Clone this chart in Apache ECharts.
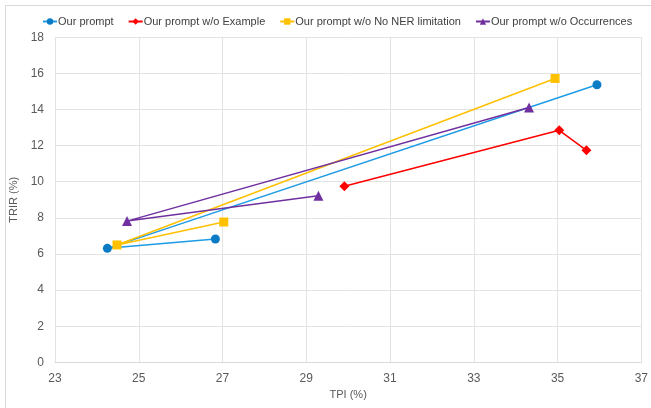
<!DOCTYPE html>
<html><head><meta charset="utf-8">
<script src="https://cdn.jsdelivr.net/npm/echarts@6/dist/echarts.min.js"></script>
<style>html,body{margin:0;padding:0;background:#fff}#c{width:651px;height:408px}</style>
</head><body><div id="c"></div>
<script>
const seriesNames = ["Our prompt", "Our prompt w/o Example", "Our prompt w/o No NER limitation", "Our prompt w/o Occurrences"];
const ourPrompt = [[26.83, 6.83], [24.25, 6.31], [35.94, 15.37]];
const woExample = [[29.91, 9.75], [35.04, 12.85], [35.69, 11.74]];
const woNER = [[27.03, 7.77], [24.48, 6.5], [34.94, 15.72]];
const woOccurrences = [[29.29, 9.22], [24.72, 7.82], [34.32, 14.11]];
const xTicks = [23, 25, 27, 29, 31, 33, 35, 37];
const yTicks = [0, 2, 4, 6, 8, 10, 12, 14, 16, 18];

const font = "Liberation Sans";
const styles = [
  {line: '#1E9BE6', marker: '#0A7CC6', symbol: 'circle', size: 9},
  {line: '#FF0000', marker: '#FF0000', symbol: 'diamond', size: 10},
  {line: '#FFC000', marker: '#FFC000', symbol: 'rect', size: 9},
  {line: '#7030A0', marker: '#7030A0', symbol: 'triangle', size: 10}
];
const datas = [ourPrompt, woExample, woNER, woOccurrences];

const chart = echarts.init(document.getElementById('c'), null, {renderer: 'canvas'});
chart.setOption({
  animation: false,
  backgroundColor: '#fff',
  graphic: [{type: 'rect', shape: {x: 5.5, y: 5.5, width: 700, height: 420}, style: {fill: 'none', stroke: '#d9d9d9', lineWidth: 1}, silent: true}],
  legend: {
    left: 37, top: 11, itemWidth: 14, itemHeight: 8, itemGap: 14,
    textStyle: {fontFamily: font, fontSize: 11, color: '#404040', padding: [0, 0, 0, -4]},
    data: seriesNames
  },
  grid: {left: 52.3, right: 7, top: 37.3, bottom: 45.7},
  xAxis: {
    type: 'value', min: xTicks[0], max: xTicks[xTicks.length - 1], interval: 2,
    name: 'TPI (%)', nameLocation: 'middle', nameGap: 24,
    nameTextStyle: {fontFamily: font, fontSize: 11, color: '#595959'},
    axisLine: {show: true, lineStyle: {color: '#d9d9d9'}},
    axisTick: {show: false},
    axisLabel: {fontFamily: font, fontSize: 12, color: '#595959', margin: 10},
    splitLine: {show: true, lineStyle: {color: '#e3e3e3'}}
  },
  yAxis: {
    type: 'value', min: yTicks[0], max: yTicks[yTicks.length - 1], interval: 2,
    name: 'TRIR (%)', nameLocation: 'middle', nameGap: 36, nameRotate: 90,
    nameTextStyle: {fontFamily: font, fontSize: 11, color: '#595959'},
    axisLine: {show: false}, axisTick: {show: false},
    axisLabel: {fontFamily: font, fontSize: 12, color: '#595959', margin: 11},
    splitLine: {show: true, lineStyle: {color: '#e3e3e3'}}
  },
  series: seriesNames.map((n, i) => ({
    name: n, type: 'line', data: datas[i],
    symbol: styles[i].symbol, symbolSize: styles[i].size,
    lineStyle: {color: styles[i].line, width: 1.5},
    itemStyle: {color: styles[i].marker, borderWidth: 0},
    z: 2 + i
  }))
});
</script></body></html>
